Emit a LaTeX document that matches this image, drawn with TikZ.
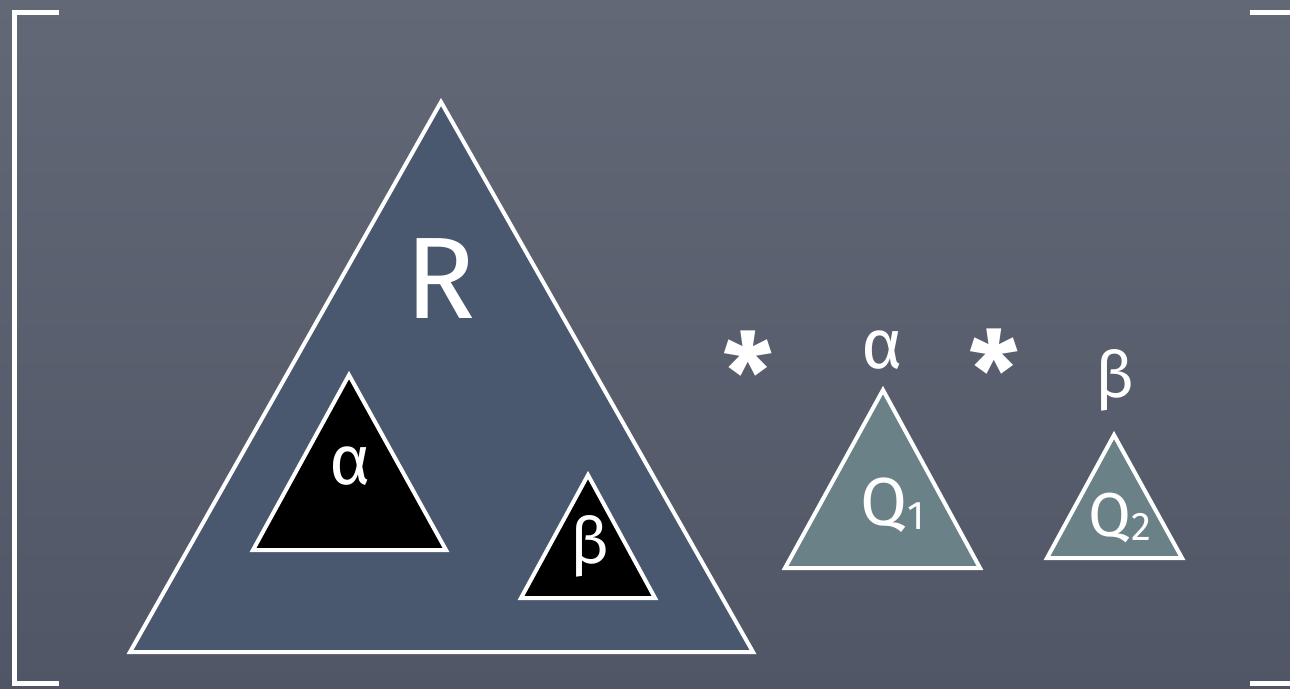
\documentclass[tikz,border=0pt]{standalone}
\usepackage{fontspec}
\setmainfont{Fira Sans}
\newcommand{\qsub}[2]{#1\raisebox{-4pt}{\fontsize{40}{40}\selectfont #2}}
\begin{document}
\begin{tikzpicture}[x=1pt,y=-1pt,
  chalk/.style={draw=white,line width=4pt,line join=miter},
  bigtri/.style={chalk,fill=rblue},
  intri/.style={chalk,fill=black},
  qtri/.style={chalk,fill=qgreen},
  lbl/.style={text=white,inner sep=0pt,anchor=center},
  brk/.style={draw=white,line width=5pt}]
\definecolor{rblue}{HTML}{4A586F}
\definecolor{qgreen}{HTML}{6A8187}
\definecolor{bgtop}{HTML}{636877}
\definecolor{bgbot}{HTML}{515666}
\useasboundingbox (0,0) rectangle (1290,688);
\shade[top color=bgtop,bottom color=bgbot] (0,0) rectangle (1290,688);
% brackets
\coordinate (lt) at (59,12); \coordinate (lc1) at (14,12); \coordinate (lc2) at (14,683); \coordinate (lb) at (59,683);
\draw[brk] (lt) -- (lc1) -- (lc2) -- (lb);
\coordinate (rt1) at (1250,12); \coordinate (rt2) at (1292,12);
\coordinate (rb1) at (1250,683); \coordinate (rb2) at (1292,683);
\draw[brk] (rt1) -- (rt2);
\draw[brk] (rb1) -- (rb2);
% big triangle R
\draw[bigtri] (441,102) -- (753,652) -- (130,652) -- cycle;
\node[lbl,font=\fontsize{116}{116}\selectfont\mdseries] (R) at (441,279) {R};
% inner triangles
\draw[intri] (349,375) -- (446,550) -- (253,550) -- cycle;
\node[lbl,font=\fontsize{70}{70}\selectfont] (a1) at (350,466) {α};
\draw[intri] (588,475) -- (655,598) -- (521,598) -- cycle;
\node[lbl,font=\fontsize{64}{64}\selectfont] (b1) at (590,546) {β};
% star, alpha, star, beta
\node[lbl,font=\fontsize{110}{110}\selectfont\bfseries] (s1) at (748,372) {*};
\node[lbl,font=\fontsize{70}{70}\selectfont] (a2) at (882,350) {α};
\node[lbl,font=\fontsize{110}{110}\selectfont\bfseries] (s2) at (994,370) {*};
\node[lbl,font=\fontsize{64}{64}\selectfont] (b2) at (1115,380) {β};
% Q triangles
\draw[qtri] (883,390) -- (980,568) -- (785,568) -- cycle;
\node[lbl,font=\fontsize{68}{68}\selectfont] (q1) at (893,505) {\qsub{Q}{1}};
\draw[qtri] (1114,435) -- (1182,558) -- (1047,558) -- cycle;
\node[lbl,font=\fontsize{62}{62}\selectfont] (q2) at (1120,518) {\qsub{Q}{2}};
\end{tikzpicture}
\end{document}
